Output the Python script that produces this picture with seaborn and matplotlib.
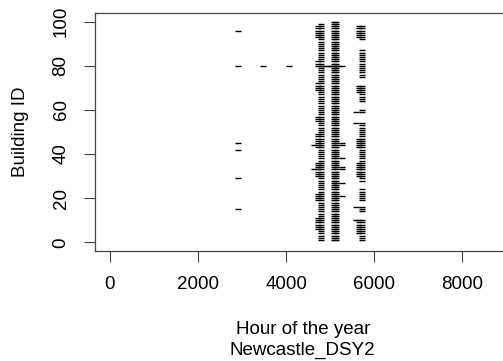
import pandas as pd
import numpy as np
import matplotlib
matplotlib.use("Agg")
import matplotlib.pyplot as plt
import seaborn as sns

sns.set_style("white")
plt.rcParams['font.family'] = ['Liberation Sans', 'DejaVu Sans']
plt.rcParams['text.color'] = 'black'
plt.rcParams['axes.labelcolor'] = 'black'
plt.rcParams['xtick.color'] = 'black'
plt.rcParams['ytick.color'] = 'black'

# hours at which each building shows up
hour_a = 4790          # first band
hour_a_left = 4720     # wider part of first band
hour_b = [5080, 5130]  # middle band (dense)
hour_c = 5720          # last band
hour_c_left = 5660

# building ids in each band
ids_a = list(range(1, 100))
ids_b = list(range(1, 101))
gaps_c = [11, 12, 13, 17, 18, 25, 26, 27, 55, 56, 57, 58, 61, 62, 63, 72, 73, 74, 88, 89, 90, 91]
ids_c = [i for i in range(1, 99) if i not in gaps_c]

wide_a = [6, 7, 8, 9, 10, 11, 19, 20, 21, 22, 30, 31, 32, 33, 34, 35, 36, 43, 44, 45, 46, 47, 48, 49,
          55, 56, 57, 69, 70, 71, 72, 80, 81, 82, 93, 94, 95, 96, 97, 98]
wide_c = [4, 5, 6, 7, 8, 9, 10, 30, 31, 32, 33, 34, 35, 36, 43, 44, 45, 46, 47, 68, 69, 70, 71,
          93, 94, 95, 96, 97, 98]

# scattered single hours
extra_hours = [2910, 2910, 2910, 2910, 2910, 2910, 3480, 4060,
               4850, 4950, 5000, 5200, 5280,
               5270, 5270, 5270, 5270, 5270, 5270, 5270,
               4640, 4640,
               5580, 5580, 5580, 5580]
extra_ids = [96, 80, 45, 42, 29, 15, 80, 80,
             80, 80, 80, 80, 80,
             45, 44, 38, 34, 33, 27, 21,
             44, 33,
             59, 54, 16, 10]

rows = []
for i in ids_a:
    rows.append((hour_a, i))
for i in wide_a:
    rows.append((hour_a_left, i))
for h in hour_b:
    for i in ids_b:
        rows.append((h, i))
for i in ids_c:
    rows.append((hour_c, i))
for i in wide_c:
    rows.append((hour_c_left, i))
for h, i in zip(extra_hours, extra_ids):
    rows.append((h, i))
df = pd.DataFrame(rows, columns=['hour', 'building'])

fig = plt.figure(figsize=(5.03, 3.61), dpi=100)
ax = fig.add_axes([0.188, 0.3044, 0.828, 0.660])

sns.scatterplot(data=df, x='hour', y='building', marker='_', color='black',
                s=22, linewidth=1.0, ax=ax, legend=False)

ax.set_xlim(-350, 9110)
ax.set_ylim(-4, 104)
ax.set_xticks([0, 2000, 4000, 6000, 8000])
ax.set_yticks([0, 20, 40, 60, 80, 100])
ax.set_xlabel("Hour of the year\nNewcastle_DSY2", fontsize=13.5, labelpad=20, linespacing=1.3)
ax.set_ylabel("Building ID", fontsize=13.5, labelpad=17)
ax.tick_params(axis='both', labelsize=13.5, length=8, width=0.8, color='#444444',
               pad=10, direction='out', bottom=True, left=True)
for lab in ax.get_yticklabels():
    lab.set_rotation(90)
    lab.set_va('center')
for sp in ax.spines.values():
    sp.set_color('#444444')
    sp.set_linewidth(0.9)

fig.savefig('out.png', dpi=100)
